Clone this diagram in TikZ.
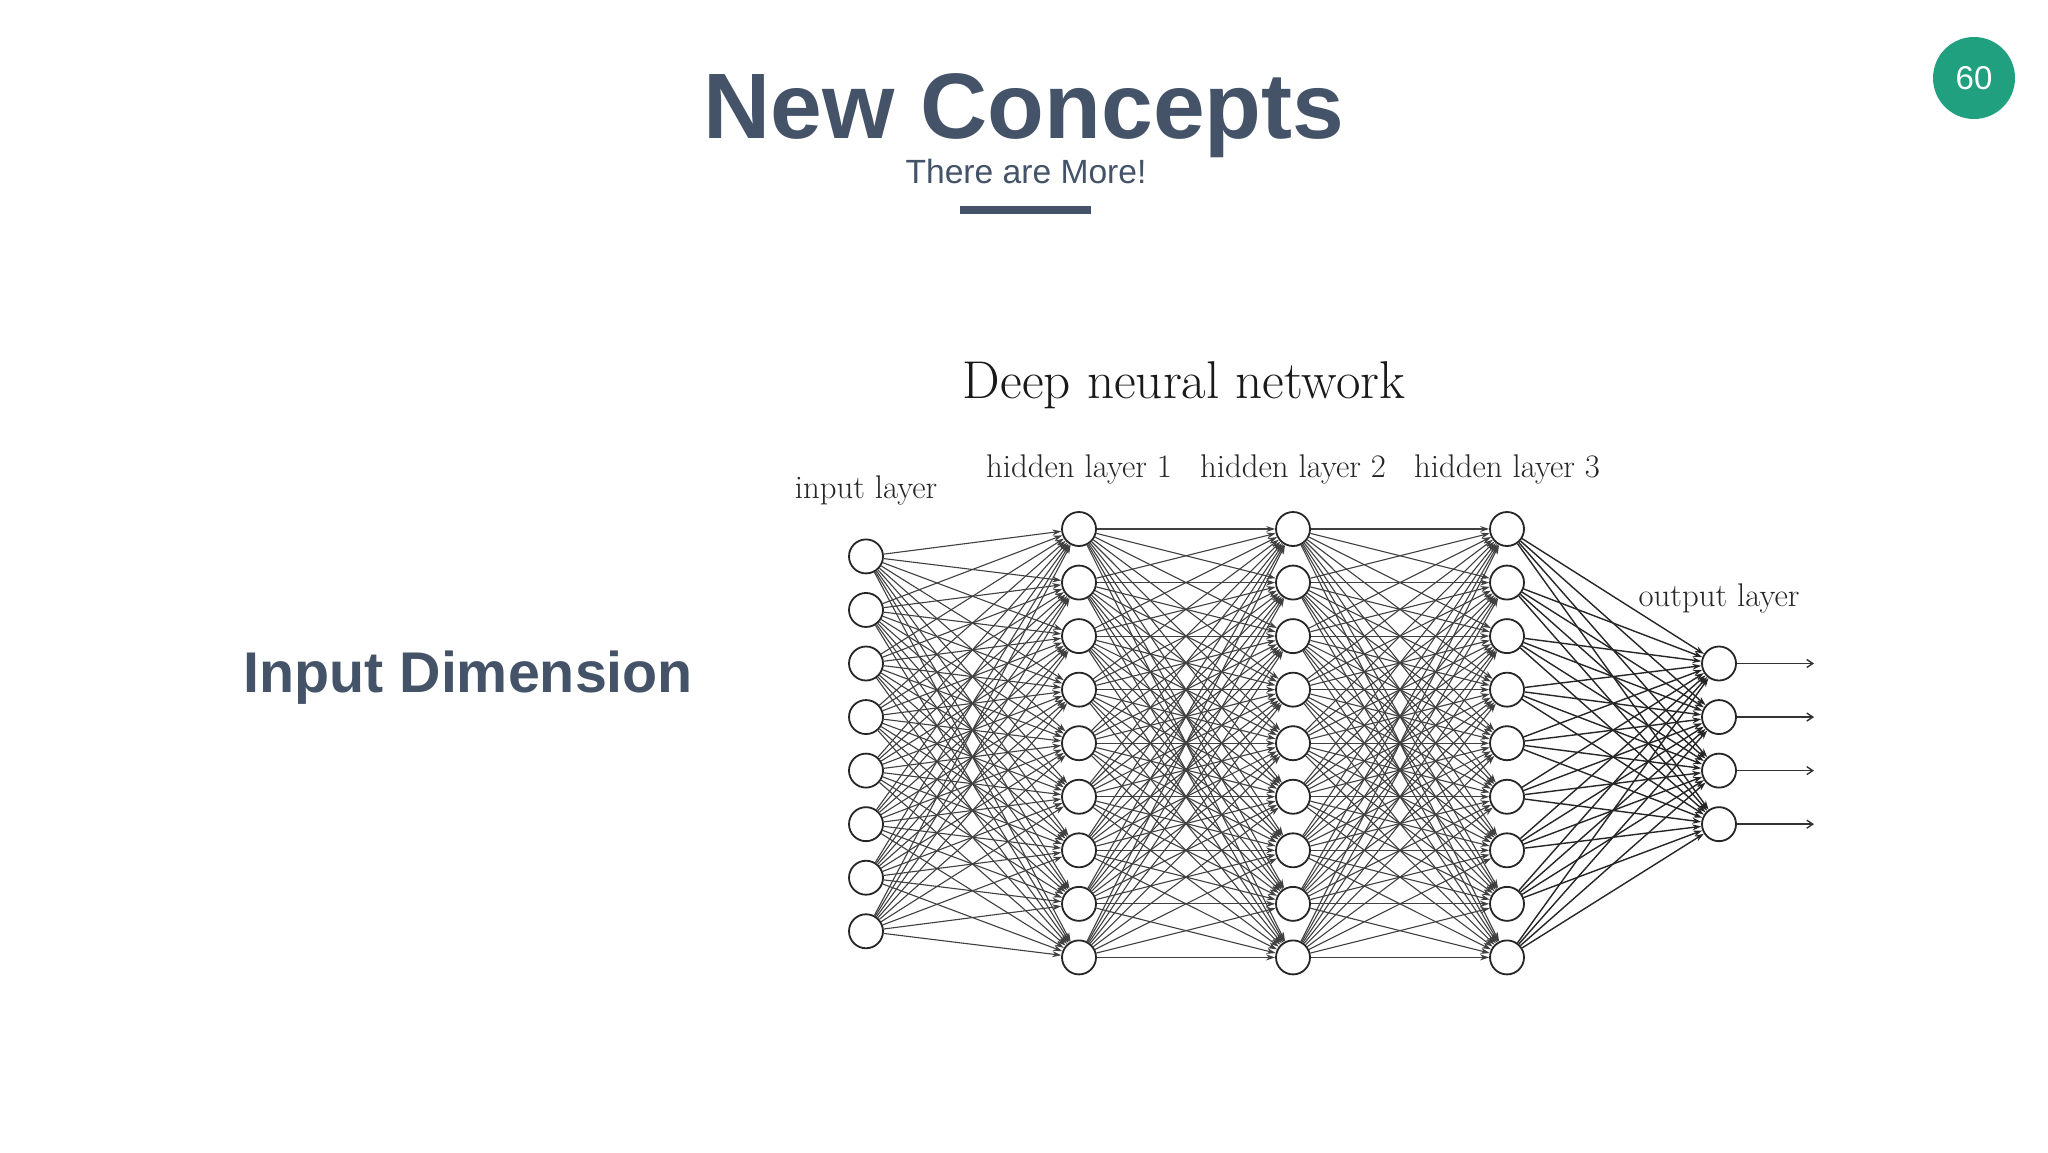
\documentclass[tikz,border=0pt]{standalone}
\usepackage{fontspec}
\setmainfont{Liberation Sans}
\newfontfamily\lmr{Latin Modern Roman}
\usetikzlibrary{arrows.meta}
\definecolor{slate}{RGB}{68,83,104}
\definecolor{badge}{RGB}{32,160,126}
\tikzset{
  neuron/.style={circle, draw=black!85, line width=0.9pt, fill=white, minimum size=17pt, inner sep=0pt},
  wire/.style={draw=black!75, line width=0.55pt, -{Stealth[length=4.5pt,width=3pt]}},
  outwire/.style={draw=black!80, line width=0.7pt, -{Straight Barb[length=3pt,width=4pt]}},
  layerlabel/.style={anchor=base, font=\lmr\fontsize{16.4}{18}\selectfont, text=black!85},
}
\begin{document}
\begin{tikzpicture}[x=0.5pt,y=-0.5pt]
\useasboundingbox[fill=white] (0,0) rectangle (2048,1152);
% header
\node[anchor=base, text=slate, font=\bfseries\fontsize{46.5}{50}\selectfont, inner sep=0] (title) at (1024,138) {New Concepts};
\node[anchor=base, text=slate, font=\fontsize{16.8}{19}\selectfont, inner sep=0] (subtitle) at (1026,183) {There are More!};
\fill[slate] (960,206) rectangle (1091,214);
\node[circle, fill=badge, minimum size=41pt, inner sep=0, text=white, font=\fontsize{16.5}{18}\selectfont] (badge) at (1974,78) {60};
% left label
\node[anchor=base west, text=slate, font=\bfseries\fontsize{28.7}{32}\selectfont, inner sep=0] (dim) at (243,692) {Input Dimension};
% network title and labels
\node[anchor=base, font=\lmr\fontsize{26.6}{29}\selectfont, text=black!90, inner sep=0] (dnn) at (1184,398) {Deep neural network};
\node[layerlabel, inner sep=0] (lin) at (866,498) {input layer};
\node[layerlabel, inner sep=0] (lh1) at (1079,477) {hidden layer 1};
\node[layerlabel, inner sep=0] (lh2) at (1293,477) {hidden layer 2};
\node[layerlabel, inner sep=0] (lh3) at (1507,477) {hidden layer 3};
\node[layerlabel, inner sep=0] (lout) at (1719,606) {output layer};
% neurons
\foreach \k in {1,...,8} {
  \node[neuron] (i\k) at (866,{556.4+(\k-1)*53.55}) {};
}
\foreach \k in {1,...,9} {
  \node[neuron] (a\k) at (1079,{529+(\k-1)*53.55}) {};
  \node[neuron] (b\k) at (1293,{529+(\k-1)*53.55}) {};
  \node[neuron] (c\k) at (1507,{529+(\k-1)*53.55}) {};
}
\foreach \k in {1,...,4} {
  \node[neuron] (o\k) at (1719,{663.5+(\k-1)*53.55}) {};
  \coordinate (e\k) at (1814,{663.5+(\k-1)*53.55});
}
% connections
\foreach \s in {1,...,8} \foreach \t in {1,...,9} \draw[wire] (i\s) -- (a\t);
\foreach \s in {1,...,9} \foreach \t in {1,...,9} \draw[wire] (a\s) -- (b\t);
\foreach \s in {1,...,9} \foreach \t in {1,...,9} \draw[wire] (b\s) -- (c\t);
\foreach \s in {1,...,9} \foreach \t in {1,...,4} \draw[wire, draw=black!85, line width=0.7pt] (c\s) -- (o\t);
\foreach \k in {1,...,4} \draw[outwire] (o\k) -- (e\k);
\end{tikzpicture}
\end{document}
